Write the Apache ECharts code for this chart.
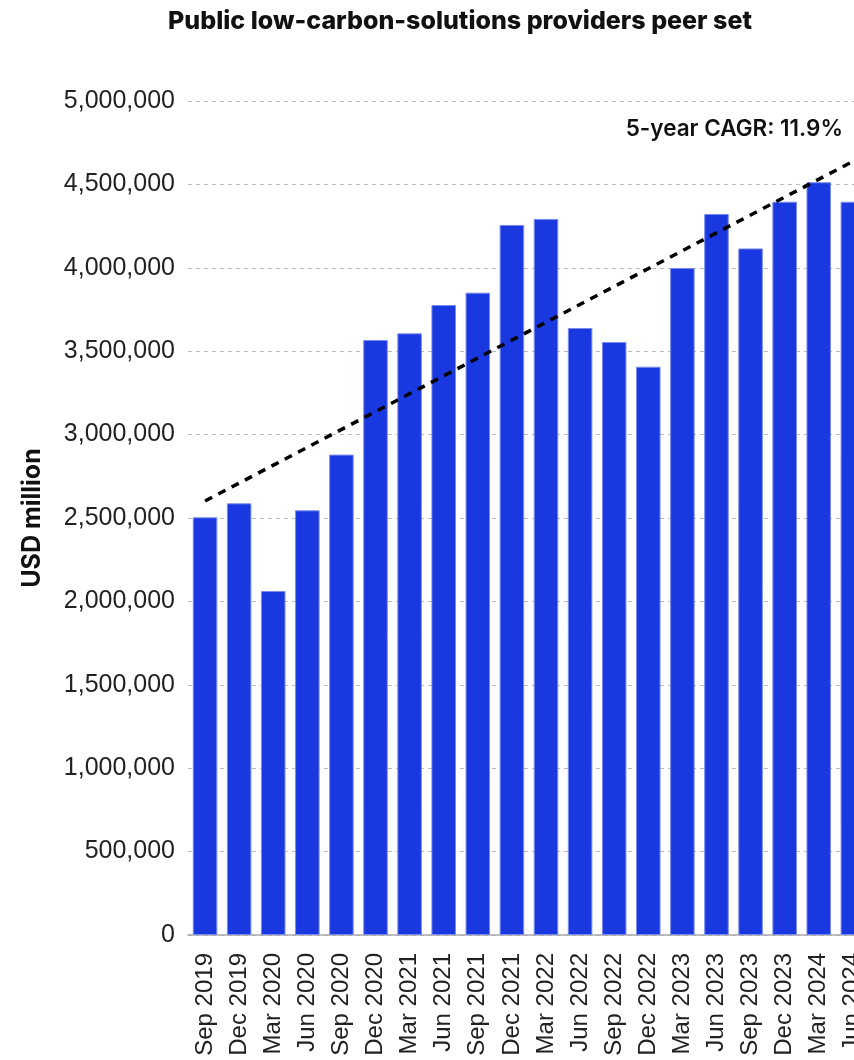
<!DOCTYPE html>
<html>
<head>
<meta charset="utf-8">
<script src="https://cdn.jsdelivr.net/npm/echarts@6/dist/echarts.min.js"></script>
<style>
html,body{margin:0;padding:0;background:#fff;overflow:hidden;width:854px;height:1060px;}
#chart{width:920px;height:1060px;}
</style>
</head>
<body>
<div id="chart"></div>
<script>
const categories = ["Sep 2019","Dec 2019","Mar 2020","Jun 2020","Sep 2020","Dec 2020","Mar 2021","Jun 2021","Sep 2021","Dec 2021","Mar 2022","Jun 2022","Sep 2022","Dec 2022","Mar 2023","Jun 2023","Sep 2023","Dec 2023","Mar 2024","Jun 2024","Sep 2024"];
const marketCap = [2504000,2588000,2062000,2546000,2880000,3567000,3607000,3777000,3851000,4257000,4293000,3639000,3555000,3407000,3999000,4323000,4116000,4396000,4513000,4396000,4400000];
const trendStart = 2602000;
const trendEnd = 4745000;
const yTicks = {min:0, max:5000000, interval:500000};
const title = "Public low-carbon-solutions providers peer set";
const yName = "USD million";
const cagrLabel = "5-year CAGR: 11.9%";

const chart = echarts.init(document.getElementById('chart'));
chart.setOption({
  animation:false,
  backgroundColor:'#fff',
  title:{text:title,left:'center',top:4,textStyle:{fontFamily:'Inter',fontWeight:800,fontSize:25,color:'#111'}},
  grid:{left:188,right:16,top:101,bottom:125,containLabel:false},
  xAxis:{type:'category',data:categories,
    axisLine:{show:true,lineStyle:{color:'#aaa',width:1.5}},
    axisTick:{show:false},
    axisLabel:{rotate:90,interval:0,margin:18,fontFamily:'Liberation Sans',fontSize:24,color:'#222'}},
  yAxis:{type:'value',min:yTicks.min,max:yTicks.max,interval:yTicks.interval,
    name:yName,nameLocation:'middle',nameGap:143,nameRotate:90,
    nameTextStyle:{fontFamily:'Inter',fontWeight:700,fontSize:25,color:'#111'},
    axisLine:{show:false},axisTick:{show:false},
    axisLabel:{margin:13,fontFamily:'Liberation Sans',fontSize:25,color:'#222',
      formatter:v=>v.toLocaleString('en-US')},
    splitLine:{lineStyle:{color:'#bbb',type:[4,4],width:1}}},
  series:[{type:'bar',data:marketCap,barCategoryGap:'28%',
    itemStyle:{color:'#1a38e0',borderColor:'#7a8cee',borderWidth:1},
    markLine:{silent:true,symbol:['none','none'],label:{show:false},
      lineStyle:{color:'#000',width:3.5,type:[8,7]},
      data:[[{coord:[categories[0],trendStart]},{coord:[categories[categories.length-1],trendEnd]}]]}}],
  graphic:[{type:'text',right:77,top:118,style:{text:cagrLabel,fontFamily:'Inter',fontWeight:600,fontSize:22.5,fill:'#111'}}]
});
</script>
</body>
</html>
